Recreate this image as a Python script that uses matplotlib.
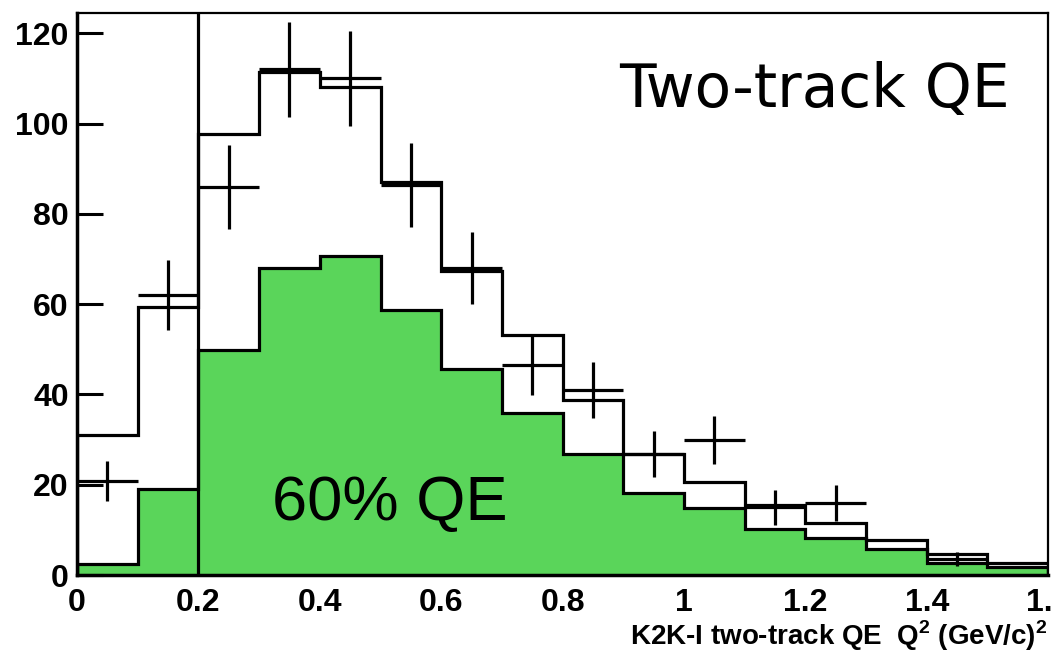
import numpy as np
import matplotlib.pyplot as plt

plt.rcParams['mathtext.fontset'] = 'custom'
plt.rcParams['mathtext.rm'] = 'Liberation Sans:weight=bold'
plt.rcParams['mathtext.bf'] = 'Liberation Sans:weight=bold'

# Q^2 binning (GeV/c)^2
edges = np.round(np.arange(0, 1.61, 0.1), 2)

# MC expectation (all two-track events) and its QE part
mc_total = [31, 59.3, 97.7, 111.5, 108.1, 87, 67.3, 53.2, 38.8, 26.8,
            20.6, 15.5, 11.5, 7.8, 4.6, 2.7]
mc_qe = [2.4, 19, 49.8, 68, 70.7, 58.7, 45.6, 36, 26.8, 18.2,
         14.8, 10.2, 8.2, 5.7, 2.6, 1.8]

# data points (bins with entries)
data_x = [0.05, 0.15, 0.25, 0.35, 0.45, 0.55, 0.65, 0.75, 0.85, 0.95,
          1.05, 1.15, 1.25, 1.45]
data_y = [20.8, 62, 86, 112, 110, 86.4, 68, 46.5, 41, 26.8,
          30, 15, 16, 3.6]
data_err = [4.5, 7.8, 9.3, 10.5, 10.5, 9.3, 8, 6.6, 6.3, 5.1,
            5.3, 3.9, 4, 1.5]

cut_q2 = 0.2
green = '#5AD55A'
lw = 2.3

fig = plt.figure(figsize=(10.51, 6.64), dpi=100)
ax = fig.add_axes([0.0733, 0.134, 0.924, 0.8464])

ax.stairs(mc_qe, edges, fill=True, color=green, baseline=0, zorder=1)
ax.stairs(mc_qe, edges, color='black', lw=lw, baseline=0, zorder=2)
ax.stairs(mc_total, edges, color='black', lw=lw, baseline=0, zorder=3)

ax.errorbar(data_x, data_y, xerr=0.05, yerr=data_err, fmt='none',
            ecolor='black', elinewidth=lw, capsize=0, zorder=4)

ax.axvline(cut_q2, color='black', lw=lw, zorder=5)

ax.text(0.893, 103.7, 'Two-track QE', fontsize=43, family='DejaVu Sans',
        ha='left', va='baseline')
ax.text(0.322, 12.2, '60% QE', fontsize=45.5, family='Liberation Sans',
        ha='left', va='baseline')

ax.set_xlim(0, 1.6)
ax.set_ylim(0, 124.5)

ax.set_xticks(np.arange(0, 1.61, 0.2))
ax.set_xticklabels(['0', '0.2', '0.4', '0.6', '0.8', '1', '1.2', '1.4', '1.6'])
ax.set_yticks(np.arange(0, 121, 20))

for lab in ax.get_xticklabels() + ax.get_yticklabels():
    lab.set_family('Liberation Sans')
    lab.set_fontweight('bold')
    lab.set_fontsize(23)

ax.tick_params(axis='y', direction='in', length=19, width=2.2, pad=6)
ax.tick_params(axis='x', length=0, pad=9)

for side in ['left', 'bottom']:
    ax.spines[side].set_linewidth(2.5)
for side in ['top', 'right']:
    ax.spines[side].set_linewidth(1.6)

fig.text(0.997, 0.028, r'K2K-I two-track QE  Q$^{\mathbf{2}}$ (GeV/c)$^{\mathbf{2}}$',
         ha='right', va='baseline', fontsize=20, fontweight='bold',
         family='Liberation Sans')

fig.savefig('out.png', dpi=100)
